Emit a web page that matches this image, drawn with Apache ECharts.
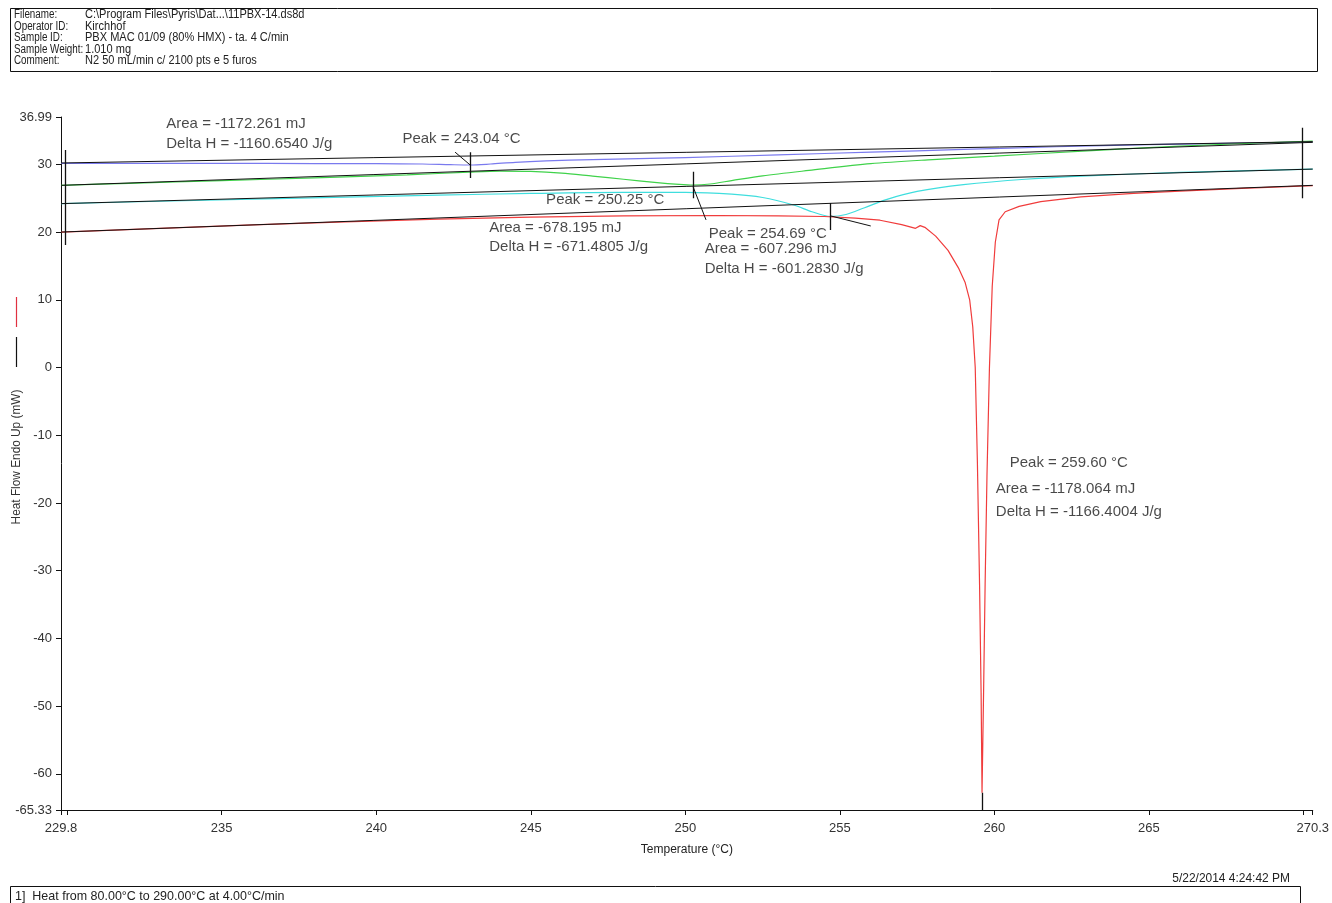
<!DOCTYPE html>
<html>
<head>
<meta charset="utf-8">
<script src="https://cdn.jsdelivr.net/npm/echarts@6/dist/echarts.min.js"></script>
<style>
  html, body { margin: 0; padding: 0; background: #ffffff; }
  #chart { width: 1332px; height: 903px; }
</style>
</head>
<body>
<div id="chart"></div>
<script>
// DSC heat-flow traces: temperature (°C) and heat flow (mW)
const blueTemp = [229.8, 232, 235, 238, 240, 241.5, 242.4, 243.04, 243.7, 244.5, 245.5, 247, 250, 253, 256, 259, 262, 265, 268, 270.3];
const blueFlow = [30.15, 30.15, 30.15, 30.12, 30.1, 30.05, 29.95, 29.9, 30.05, 30.3, 30.5, 30.7, 31.0, 31.4, 31.8, 32.2, 32.6, 32.9, 33.15, 33.3];

const greenTemp = [229.8, 232, 235, 238, 241, 243, 244, 245, 246, 247, 248, 249, 249.8, 250.25, 250.8, 251.5, 252.5, 254, 256, 258, 260, 263, 266, 270.3];
const greenFlow = [26.9, 27.2, 27.6, 28.0, 28.45, 28.85, 29.0, 28.95, 28.7, 28.25, 27.8, 27.35, 27.05, 26.95, 27.1, 27.6, 28.3, 29.1, 30.1, 30.7, 31.2, 32.0, 32.7, 33.45];

const cyanTemp = [229.8, 233, 236, 239, 242, 245, 248, 250, 251.5, 252.5, 253.5, 254.1, 254.69, 255.2, 255.8, 256.5, 257.5, 259, 261, 263, 266, 270.3];
const cyanFlow = [24.2, 24.55, 24.85, 25.15, 25.45, 25.7, 25.85, 25.85, 25.6, 25.1, 24.0, 23.0, 22.3, 22.6, 23.6, 24.8, 26.0, 27.0, 27.8, 28.3, 28.8, 29.3];

const redTemp = [229.8, 233, 236, 239, 242, 245, 248, 251, 253, 254.5, 255.5, 256.3, 257.0, 257.45, 257.6, 257.75, 258.1, 258.5, 258.85, 259.05, 259.2, 259.3, 259.38, 259.45, 259.52, 259.57, 259.6, 259.65, 259.7, 259.76, 259.84, 259.93, 260.03, 260.15, 260.35, 260.8, 261.5, 262.8, 264.5, 266, 268, 270.3];
const redFlow = [20.0, 20.55, 21.05, 21.5, 21.9, 22.2, 22.4, 22.45, 22.4, 22.3, 22.05, 21.75, 21.1, 20.55, 20.95, 20.7, 19.4, 17.3, 14.6, 12.6, 10.0, 6.0, 0.0, -14.0, -32.0, -48.0, -62.8, -48.0, -32.0, -16.0, 0.0, 12.0, 18.5, 21.8, 23.0, 23.8, 24.5, 25.2, 25.7, 26.05, 26.45, 26.85];

// integration baselines (heat flow at the start and end of the range), order: blue, green, cyan, red
const baselineStart = [30.2, 26.9, 24.2, 20.0];
const baselineEnd = [33.35, 33.25, 29.3, 26.9];

// peaks and their calorimetry results
const peakTemps = [243.04, 250.25, 254.69, 259.60];
const peakAreas = ['-1172.261', '-678.195', '-607.296', '-1178.064'];
const peakDeltaH = ['-1160.6540', '-671.4805', '-601.2830', '-1166.4004'];

// axis ticks and labels
const xTicks = [229.8, 230, 235, 240, 245, 250, 255, 260, 265, 270, 270.3];
const xLabels = [229.8, 235, 240, 245, 250, 255, 260, 265, 270.3];
const yTicks = [-65.33, -60, -50, -40, -30, -20, -10, 0, 10, 20, 30, 36.99];

// vertical marker segments [temperature, flowFrom, flowTo]
const markerSegments = [
  [229.93, 18.1, 32.1],
  [269.96, 25.0, 35.4],
  [peakTemps[0], 28.0, 31.8],
  [peakTemps[1], 25.0, 28.9],
  [peakTemps[2], 20.3, 24.3],
  [peakTemps[3], -65.33, -62.8]
];
// leader lines [t1, f1, t2, f2]
const leaderLines = [
  [242.55, 31.8, peakTemps[0], 29.9],
  [peakTemps[1], 26.7, 250.67, 21.8],
  [peakTemps[2], 22.4, 256.0, 20.9]
];

// annotation anchors [temperature, heat flow] and text
const noteTemps = [233.19, 233.19, 240.83, 245.48, 243.64, 243.64, 250.74, 250.61, 250.61, 260.48, 260.03, 260.03];
const noteFlows = [35.96, 33.0, 33.74, 24.74, 20.6, 17.8, 19.7, 17.5, 14.55, -14.1, -17.93, -21.33];
const noteTexts = [
  'Area = ' + peakAreas[0] + ' mJ',
  'Delta H = ' + peakDeltaH[0] + ' J/g',
  'Peak = ' + peakTemps[0].toFixed(2) + ' °C',
  'Peak = ' + peakTemps[1].toFixed(2) + ' °C',
  'Area = ' + peakAreas[1] + ' mJ',
  'Delta H = ' + peakDeltaH[1] + ' J/g',
  'Peak = ' + peakTemps[2].toFixed(2) + ' °C',
  'Area = ' + peakAreas[2] + ' mJ',
  'Delta H = ' + peakDeltaH[2] + ' J/g',
  'Peak = ' + peakTemps[3].toFixed(2) + ' °C',
  'Area = ' + peakAreas[3] + ' mJ',
  'Delta H = ' + peakDeltaH[3] + ' J/g'
];

const headerLabels = ['Filename:', 'Operator ID:', 'Sample ID:', 'Sample Weight:', 'Comment:'];
const headerValues = ['C:\\Program Files\\Pyris\\Dat...\\11PBX-14.ds8d', 'Kirchhof', 'PBX MAC 01/09 (80% HMX) - ta. 4 C/min', '1.010 mg', 'N2 50 mL/min c/ 2100 pts e 5 furos'];

const SANS = "'Liberation Sans', Arial, sans-serif";

function pairs(t, v) { return t.map((x, i) => [x, v[i]]); }

const curveColors = ['#7a7aee', '#3fd24a', '#3fdede', '#f03c3c'];
const curves = [pairs(blueTemp, blueFlow), pairs(greenTemp, greenFlow), pairs(cyanTemp, cyanFlow), pairs(redTemp, redFlow)];

const series = [];
curves.forEach((d, i) => {
  series.push({
    type: 'line', data: d, showSymbol: false, smooth: i === 3 ? false : 0.3,
    lineStyle: { color: curveColors[i], width: 1.2 }, z: 2, silent: true
  });
});
baselineStart.forEach((s, i) => {
  series.push({
    type: 'line', data: [[229.8, s], [270.3, baselineEnd[i]]], showSymbol: false,
    lineStyle: { color: '#111', width: 1 }, z: 3, silent: true
  });
});
series.push({
  type: 'lines', coordinateSystem: 'cartesian2d', z: 4, silent: true,
  lineStyle: { color: '#111', width: 1.3, opacity: 1 },
  data: markerSegments.map(m => ({ coords: [[m[0], m[1]], [m[0], m[2]]] }))
    .concat(leaderLines.map(l => ({ coords: [[l[0], l[1]], [l[2], l[3]]], lineStyle: { width: 1 } })))
});
series.push({
  type: 'scatter', z: 5, silent: true, symbolSize: 1,
  itemStyle: { color: 'rgba(0,0,0,0)' },
  data: noteTemps.map((t, i) => ({ value: [t, noteFlows[i]], name: noteTexts[i] })),
  label: {
    show: true, position: 'right', distance: 0, formatter: p => p.name,
    color: '#1a1a1a', fontSize: 15, fontFamily: SANS
  }
});

// page furniture: header block, footer block, axis title with trace keys
const graphics = [
  { type: 'rect', shape: { x: 10.5, y: 8.5, width: 1307, height: 63 }, style: { fill: 'none', stroke: '#111', lineWidth: 1 } },
  { type: 'rect', shape: { x: 10.5, y: 886.5, width: 1290, height: 30 }, style: { fill: 'none', stroke: '#111', lineWidth: 1 } },
  { type: 'text', x: 15, y: 896, scaleX: 0.96, style: { text: '1]  Heat from 80.00°C to 290.00°C at 4.00°C/min', font: '13px ' + SANS, fill: '#222', verticalAlign: 'middle' } },
  { type: 'text', x: 1290, y: 878, scaleX: 0.92, style: { text: '5/22/2014 4:24:42 PM', font: '13px ' + SANS, fill: '#222', align: 'right', verticalAlign: 'middle' } },
  { type: 'text', x: 16, y: 457, rotation: Math.PI / 2, scaleX: 0.91, style: { text: 'Heat Flow Endo Up (mW)', font: '13px ' + SANS, fill: '#333', align: 'center', verticalAlign: 'middle' } },
  { type: 'line', shape: { x1: 16.5, y1: 297, x2: 16.5, y2: 327 }, style: { stroke: '#e03040', lineWidth: 1.2 } },
  { type: 'line', shape: { x1: 16.5, y1: 337, x2: 16.5, y2: 367 }, style: { stroke: '#111', lineWidth: 1.2 } }
];
headerLabels.forEach((t, i) => {
  const y = 15 + i * 11.4;
  graphics.push({ type: 'text', x: 14, y: y, scaleX: 0.82, style: { text: t, font: '12px ' + SANS, fill: '#222', verticalAlign: 'middle' } });
  graphics.push({ type: 'text', x: 85, y: y, scaleX: 0.92, style: { text: headerValues[i], font: '12px ' + SANS, fill: '#222', verticalAlign: 'middle' } });
});

const chart = echarts.init(document.getElementById('chart'), null, { renderer: 'canvas' });
chart.setOption({
  animation: false,
  backgroundColor: '#ffffff',
  grid: { left: 61, right: 16, top: 117, bottom: 93, containLabel: false },
  xAxis: {
    type: 'value', min: 229.8, max: 270.3,
    name: 'Temperature (°C)', nameLocation: 'middle', nameGap: 34,
    nameTextStyle: { color: '#222', fontSize: 12, fontFamily: SANS },
    axisLine: { show: true, onZero: false, lineStyle: { color: '#111', width: 1 } },
    axisTick: { show: true, length: 5, customValues: xTicks, lineStyle: { color: '#111' } },
    axisLabel: { customValues: xLabels, formatter: v => String(v), color: '#333', fontSize: 13, fontFamily: SANS, margin: 12 },
    splitLine: { show: false }
  },
  yAxis: {
    type: 'value', min: -65.33, max: 36.99,
    axisLine: { show: true, onZero: false, lineStyle: { color: '#111', width: 1 } },
    axisTick: { show: true, length: 5, customValues: yTicks, lineStyle: { color: '#111' } },
    axisLabel: { customValues: yTicks, formatter: v => String(v), color: '#333', fontSize: 13, fontFamily: SANS, margin: 9 },
    splitLine: { show: false }
  },
  graphic: graphics,
  series: series
});
</script>
</body>
</html>
